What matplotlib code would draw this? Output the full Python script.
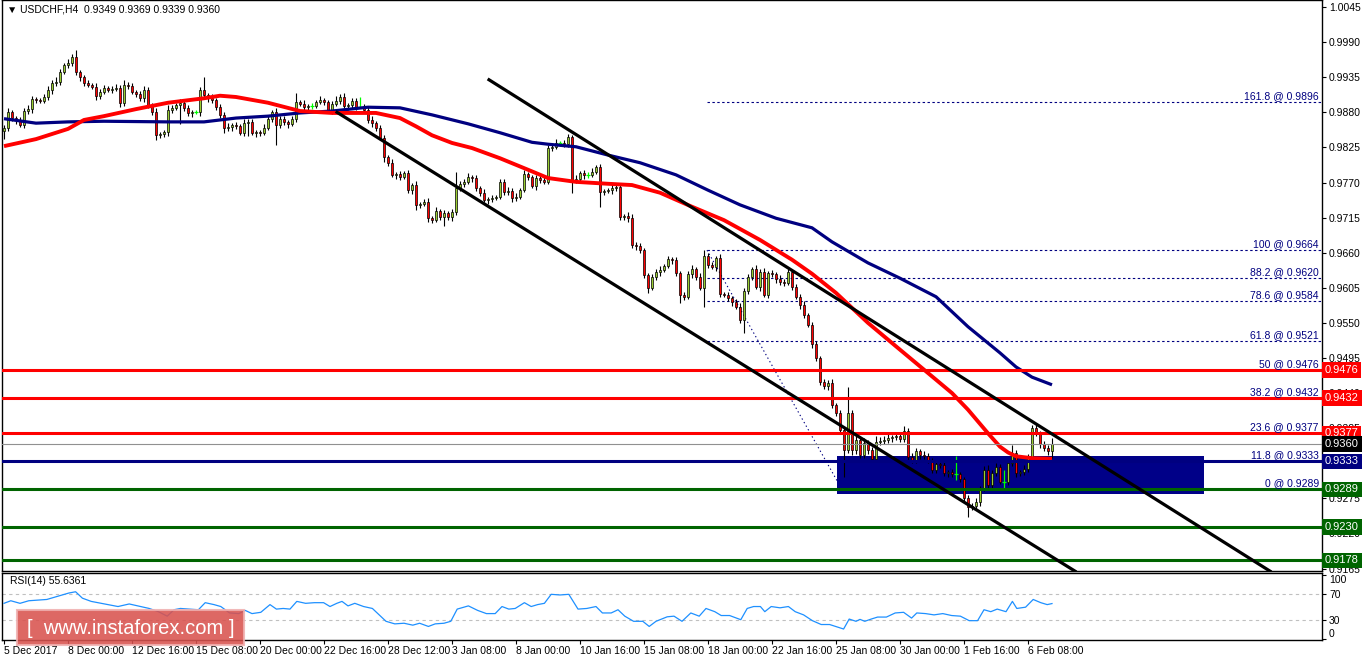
import matplotlib
matplotlib.use('Agg')
import matplotlib.pyplot as plt
from matplotlib.patches import Rectangle, FancyBboxPatch
import matplotlib.transforms as mtransforms

plt.rcParams['font.family'] = ['Liberation Sans', 'DejaVu Sans']

# ---------------- data ----------------
first_open = 0.9850
closes = [
    0.9855, 0.9880, 0.9871, 0.9868, 0.9860, 0.9882, 0.9885, 0.9901, 0.9899, 0.9898,
    0.9904, 0.9915, 0.9926, 0.9928, 0.9943, 0.9954, 0.9957, 0.9967, 0.9943, 0.9935,
    0.9926, 0.9923, 0.9920, 0.9906, 0.9912, 0.9918, 0.9915, 0.9917, 0.9918, 0.9895,
    0.9923, 0.9921, 0.9912, 0.9909, 0.9902, 0.9915, 0.9891, 0.9880, 0.9844, 0.9846,
    0.9849, 0.9884, 0.9887, 0.9891, 0.9895, 0.9887, 0.9879, 0.9880, 0.9880, 0.9915,
    0.9907, 0.9902, 0.9899, 0.9888, 0.9876, 0.9855, 0.9857, 0.9860, 0.9859, 0.9848,
    0.9863, 0.9865, 0.9848, 0.9849, 0.9848, 0.9855, 0.9870, 0.9880, 0.9860, 0.9870,
    0.9865, 0.9862, 0.9870, 0.9896, 0.9893, 0.9888, 0.9890, 0.9890, 0.9896, 0.9899,
    0.9896, 0.9884, 0.9893, 0.9898, 0.9904, 0.9890, 0.9891, 0.9898, 0.9888, 0.9888,
    0.9884, 0.9868, 0.9863, 0.9855, 0.9840, 0.9810, 0.9801, 0.9782, 0.9783, 0.9779,
    0.9785, 0.9758, 0.9766, 0.9735, 0.9737, 0.9740, 0.9714, 0.9712, 0.9725, 0.9716,
    0.9722, 0.9716, 0.9724, 0.9761, 0.9768, 0.9771, 0.9779, 0.9777, 0.9761, 0.9754,
    0.9743, 0.9744, 0.9746, 0.9747, 0.9771, 0.9755, 0.9757, 0.9746, 0.9748, 0.9758,
    0.9783, 0.9779, 0.9765, 0.9777, 0.9774, 0.9771, 0.9824, 0.9826, 0.9832, 0.9832,
    0.9830, 0.9841, 0.9774, 0.9776, 0.9785, 0.9782, 0.9782, 0.9786, 0.9794, 0.9755,
    0.9757, 0.9758, 0.9761, 0.9763, 0.9716, 0.9718, 0.9714, 0.9672, 0.9670, 0.9664,
    0.9625, 0.9605, 0.9622, 0.9630, 0.9633, 0.9639, 0.9650, 0.9648, 0.9628, 0.9594,
    0.9591, 0.9627, 0.9635, 0.9622, 0.9605, 0.9655, 0.9641, 0.9638, 0.9652, 0.9595,
    0.9594, 0.9589, 0.9583, 0.9575, 0.9555, 0.9600, 0.9622, 0.9635, 0.9606, 0.9630,
    0.9594, 0.9628, 0.9626, 0.9619, 0.9614, 0.9612, 0.9630, 0.9606, 0.9591, 0.9578,
    0.9562, 0.9547, 0.9517, 0.9495, 0.9457, 0.9451, 0.9456, 0.9421, 0.9409, 0.9382,
    0.9351, 0.9409, 0.9351, 0.9367, 0.9343, 0.9362, 0.9351, 0.9337, 0.9363, 0.9365,
    0.9367, 0.9370, 0.9371, 0.9373, 0.9368, 0.9381, 0.9340, 0.9335, 0.9349, 0.9343,
    0.9341, 0.9335, 0.9320, 0.9329, 0.9327, 0.9315, 0.9316, 0.9313, 0.9313, 0.9305,
    0.9276, 0.9262, 0.9263, 0.9269, 0.9291, 0.9320, 0.9296, 0.9315, 0.9324, 0.9301,
    0.9301, 0.9330, 0.9346, 0.9315, 0.9316, 0.9321, 0.9340, 0.9385, 0.9377, 0.9360,
    0.9354, 0.9349, 0.9360,
]
# upper / lower wick lengths in pips beyond the body
hi_ext = [
    5, 6, 4, 3, 5, 4, 6, 5, 3, 4, 5, 6, 4, 8, 5, 4, 6, 5, 11, 4,
    4, 5, 3, 6, 4, 5, 3, 4, 6, 5, 8, 4, 5, 3, 4, 6, 5, 4, 6, 3,
    4, 7, 5, 4, 6, 3, 5, 4, 3, 5, 20, 4, 6, 3, 5, 4, 6, 4, 5, 3,
    6, 4, 5, 3, 4, 6, 5, 4, 7, 5, 4, 3, 5, 14, 4, 6, 3, 5, 4, 6,
    4, 3, 5, 7, 4, 6, 3, 5, 4, 16, 5, 4, 6, 3, 5, 4, 3, 6, 4, 5,
    3, 5, 4, 6, 3, 4, 5, 3, 6, 4, 5, 3, 4, 25, 5, 4, 6, 3, 5, 4,
    6, 4, 5, 3, 4, 5, 6, 4, 5, 3, 6, 4, 3, 5, 4, 6, 5, 4, 6, 3,
    5, 5, 4, 6, 3, 5, 4, 6, 4, 5, 3, 4, 6, 5, 4, 3, 5, 6, 4, 5,
    4, 3, 5, 4, 6, 3, 5, 4, 6, 3, 5, 4, 5, 3, 6, 9, 4, 5, 3, 6,
    4, 5, 3, 4, 6, 5, 4, 3, 5, 4, 6, 3, 5, 4, 6, 5, 4, 3, 5, 4,
    6, 3, 5, 4, 3, 5, 4, 6, 3, 5, 4, 41, 5, 6, 4, 8, 5, 4, 9, 6,
    5, 8, 4, 6, 5, 7, 4, 6, 5, 4, 6, 5, 4, 6, 3, 5, 4, 5, 28, 4,
    3, 4, 5, 6, 4, 5, 8, 4, 6, 5, 19, 4, 12, 5, 4, 6, 5, 5, 6, 4,
    5, 4, 9,
]
lo_ext = [
    12, 5, 4, 6, 3, 5, 4, 6, 5, 4, 3, 5, 6, 4, 5, 3, 4, 5, 4, 6,
    5, 3, 4, 6, 5, 4, 3, 5, 4, 6, 5, 4, 3, 5, 4, 6, 5, 4, 8, 5,
    4, 6, 5, 4, 30, 5, 4, 6, 3, 5, 4, 6, 5, 4, 5, 8, 4, 6, 5, 4,
    5, 20, 4, 6, 5, 4, 3, 5, 31, 4, 5, 6, 4, 5, 3, 4, 6, 5, 4, 3,
    5, 4, 6, 3, 5, 4, 6, 4, 5, 1, 5, 4, 6, 5, 4, 8, 5, 4, 6, 5,
    4, 5, 6, 8, 5, 4, 6, 5, 4, 5, 14, 4, 6, 5, 4, 5, 3, 6, 4, 5,
    4, 6, 5, 4, 3, 5, 4, 6, 5, 4, 3, 5, 4, 6, 5, 4, 3, 5, 4, 5,
    5, 4, 20, 5, 4, 6, 5, 4, 3, 23, 5, 4, 6, 5, 4, 5, 6, 4, 5, 4,
    5, 8, 4, 5, 6, 4, 3, 5, 4, 13, 5, 4, 6, 5, 4, 30, 5, 4, 6, 5,
    4, 5, 6, 4, 5, 21, 4, 5, 3, 6, 4, 5, 4, 6, 5, 4, 3, 5, 4, 6,
    5, 4, 6, 5, 4, 5, 6, 4, 5, 6, 42, 5, 8, 6, 4, 5, 6, 4, 5, 4,
    4, 5, 6, 4, 5, 4, 6, 5, 4, 6, 5, 4, 6, 5, 4, 5, 6, 4, 9, 5,
    6, 16, 5, 4, 6, 5, 4, 6, 5, 4, 13, 5, 4, 6, 5, 4, 5, 4, 5, 6,
    5, 6, 10,
]

# moving averages (bar index, value)
ma_red_bar = [0, 8, 16, 20, 25, 33, 41, 50, 54, 58, 66, 74, 82, 89, 93, 99, 103, 107, 112, 117,
              124, 131, 136, 143, 151, 157, 164, 172, 180, 189, 197, 202, 208, 216, 224,
              233, 237, 241, 246, 249, 251, 253, 257, 262]
ma_red_val = [0.9827, 0.9838, 0.9854, 0.9868, 0.9874, 0.9885, 0.9895, 0.9902, 0.9906, 0.9904,
              0.9895, 0.9882, 0.9879, 0.9879, 0.9879, 0.9871, 0.9858, 0.9844, 0.9832, 0.9824,
              0.9808, 0.9790, 0.9777, 0.9771, 0.9768, 0.9766, 0.9754, 0.9732, 0.9711, 0.9680,
              0.9649, 0.9627, 0.9597, 0.9550, 0.9508, 0.9461, 0.9440, 0.9414, 0.9377, 0.9356,
              0.9347, 0.9341, 0.9338, 0.9337]
ma_blue_bar = [0, 8, 16, 25, 41, 50, 58, 66, 74, 82, 91, 99, 107, 116, 124, 132, 136, 143,
               151, 159, 168, 176, 184, 193, 202, 207, 216, 224, 233, 241, 249, 253, 257, 262]
ma_blue_val = [0.9870, 0.9863, 0.9865, 0.9866, 0.9865, 0.9865, 0.9871, 0.9874, 0.9879, 0.9882,
               0.9888, 0.9887, 0.9876, 0.9862, 0.9848, 0.9833, 0.9830, 0.9826,
               0.9813, 0.9801, 0.9782, 0.9758, 0.9735, 0.9714, 0.9699, 0.9677, 0.9644, 0.9620,
               0.9591, 0.9544, 0.9503, 0.9481, 0.9465, 0.9453]

# RSI(14)
rsi_bar = [0, 1.7, 4, 6.2, 8.4, 10.7, 12.9, 16.2, 17.9, 19.6, 21.8, 25.2, 28.5, 31.3, 34.1,
           36.3, 38.6, 40.8, 42.5, 44.1, 46.4, 48.6, 50.3, 52.5, 54.2, 56.4, 58.7, 60.3, 62,
           64.2, 66.5, 68.1, 69.8, 71.5, 73.2, 75.4, 77.6, 79.9, 81.5, 83.2, 84.5, 86, 87.7,
           89.9, 92.1, 93.8, 95.5, 97.7, 100, 102.2, 103.9, 106.1, 107.8, 110, 111.7, 113.3,
           116.1, 118.4, 120.6, 122.8, 124.5, 126.2, 127.8, 130.1, 131.8, 133.4, 135.1, 136.8,
           139, 141.2, 143.5, 145.7, 148, 149.6, 151.8, 153.5, 155.2, 157.4, 159.7, 161.3, 163,
           165.8, 167.5, 169.5, 171.7, 173.8, 175.5, 177.7, 179.3, 181.4, 184.2, 185.8, 187.4,
           189.1, 190.2, 191.8, 194, 196.1, 197.8, 199.9, 202.1, 204.3, 206.4, 208.1, 209.9,
           211.3, 213, 214, 215.2, 216.8, 218.4, 220.6, 222.8, 224.9, 226.9, 228.2, 230.4,
           232.5, 234.7, 236.9, 239.1, 241.3, 243.4, 245, 246.7, 248.3, 250.5, 252.1, 253.2,
           255.4, 257.3, 259.2, 260.8, 262]
rsi_val = [56, 60, 56, 60, 61, 62, 66, 72, 74, 64, 59, 55, 51, 55, 51,
           48, 43, 36, 46, 48, 47, 46, 57, 54, 51, 41, 40, 45, 40,
           42, 54, 47, 48, 47, 59, 56, 57, 57, 51, 56, 59, 52, 56,
           51, 48, 38, 28, 24, 25, 22, 25, 20, 24, 25, 28, 47,
           52, 45, 40, 40, 51, 47, 48, 57, 51, 54, 56, 70,
           69, 70, 47, 48, 51, 41, 41, 46, 36, 28, 28, 20, 28,
           35, 36, 28, 41, 36, 48, 43, 37, 37, 30.5, 48, 51,
           51, 43, 51, 49, 51, 43, 38, 29, 23, 23, 19.6, 16,
           31.5, 28, 31, 28, 31.5, 34.6, 34.6, 41, 42, 33, 41, 40,
           38, 40, 37, 36, 29, 29, 46, 43, 47, 43, 59, 48,
           50, 62, 57, 54, 55.6]

xtick_bars = [0, 16, 32, 48, 64, 80, 96, 112, 128, 144, 160, 176, 192, 208, 224, 240, 256]
xtick_labels = ['5 Dec 2017', '8 Dec 00:00', '12 Dec 16:00', '15 Dec 08:00', '20 Dec 00:00',
                '22 Dec 16:00', '28 Dec 12:00', '3 Jan 08:00', '8 Jan 00:00', '10 Jan 16:00',
                '15 Jan 08:00', '18 Jan 00:00', '22 Jan 16:00', '25 Jan 08:00', '30 Jan 00:00',
                '1 Feb 16:00', '6 Feb 08:00']
price_ticks = [1.0045, 0.9990, 0.9935, 0.9880, 0.9825, 0.9770, 0.9715, 0.9660, 0.9605,
               0.9550, 0.9495, 0.9440, 0.9385, 0.9330, 0.9275, 0.9220, 0.9165]

red_levels = [0.9476, 0.9432, 0.9377]
navy_levels = [0.9333]
green_levels = [0.9289, 0.9230, 0.9178]
current_price = 0.9360

fib_names = ['161.8', '100', '88.2', '78.6', '61.8', '50', '38.2', '23.6', '11.8', '0']
fib_prices = [0.9896, 0.9664, 0.9620, 0.9584, 0.9521, 0.9476, 0.9432, 0.9377, 0.9333, 0.9289]
fib_start_bar = 175.75
fib_diag_bars = [175.75, 208.5]
fib_diag_prices = [0.9664, 0.9300]

chan_upper_bars = [121.25, 316.5]
chan_upper_prices = [0.9931, 0.9161]
chan_lower_bars = [83.25, 267.75]
chan_lower_prices = [0.9880, 0.9161]

zone_bars = [208.25, 300.0]
zone_prices = [0.9282, 0.9341]

title_text = '\u25BC USDCHF,H4  0.9349 0.9369 0.9339 0.9360'
rsi_text = 'RSI(14) 55.6361'

# ---------------- figure ----------------
W, H = 1362, 661
fig = plt.figure(figsize=(W / 100, H / 100), dpi=100)
fig.patch.set_facecolor('white')

def fx(px):
    return px / W

def fy(py):
    return 1 - py / H

ax = fig.add_axes([fx(2), fy(571), fx(1322) - fx(2), fy(0) - fy(571)])
ax2 = fig.add_axes([fx(2), fy(640), fx(1322) - fx(2), fy(573) - fy(640)])

XL = (-0.5, 329.5)
ax.set_xlim(*XL)
ax.set_ylim(0.91612, 1.0056)
ax2.set_xlim(*XL)
ax2.set_ylim(-1.1, 103.2)

# zone rectangle (background)
ax.add_patch(Rectangle((zone_bars[0], zone_prices[0]), zone_bars[1] - zone_bars[0],
                       zone_prices[1] - zone_prices[0], facecolor='#000088',
                       edgecolor='none', zorder=1))

# fib dashed lines
for name, p in zip(fib_names, fib_prices):
    ax.plot([fib_start_bar, XL[1]], [p, p], color='#000080', lw=0.8,
            dashes=(2.2, 2.2), zorder=2)
    ax.text(XL[1] - 0.8, p + 0.00022, f'{name} @ {p:.4f}', color='#000080',
            fontsize=7.5, ha='right', va='bottom', zorder=6)
ax.plot(fib_diag_bars, fib_diag_prices, color='#000080', lw=0.8, dashes=(1.2, 2.5), zorder=2)

# candles
prev = first_open
for i, c in enumerate(closes):
    o = prev
    hi = max(o, c) + hi_ext[i] * 0.0001
    lo = min(o, c) - lo_ext[i] * 0.0001
    if abs(o - c) < 0.00004:
        ax.vlines(i, lo, hi, color='#00FF00', lw=0.9, zorder=3)
        ax.hlines(c, i - 0.4, i + 0.4, color='#00FF00', lw=0.9, zorder=3)
    else:
        ax.vlines(i, lo, hi, color='black', lw=0.8, zorder=3)
        col = '#9ACD32' if c > o else '#FF0000'
        ax.add_patch(Rectangle((i - 0.34, min(o, c)), 0.68, abs(c - o), facecolor=col,
                               edgecolor='black', lw=0.5, zorder=3.5))
    prev = c

# moving averages
ax.plot(ma_blue_bar, ma_blue_val, color='#000080', lw=2.3, zorder=4,
        solid_capstyle='butt', solid_joinstyle='round')
ax.plot(ma_red_bar, ma_red_val, color='#FF0000', lw=2.8, zorder=4,
        solid_capstyle='butt', solid_joinstyle='round')

# horizontal levels
ax.axhline(current_price, color='#909090', lw=0.8, zorder=4)
for p in red_levels:
    ax.axhline(p, color='#FF0000', lw=2.2, zorder=4.5)
for p in navy_levels:
    ax.axhline(p, color='#000080', lw=2.2, zorder=4.5)
for p in green_levels:
    ax.axhline(p, color='#006400', lw=2.2, zorder=4.5)

# channel
ax.plot(chan_upper_bars, chan_upper_prices, color='black', lw=2.3, zorder=5)
ax.plot(chan_lower_bars, chan_lower_prices, color='black', lw=2.3, zorder=5)

# axes styling
for a in (ax, ax2):
    for s in a.spines.values():
        s.set_color('black')
        s.set_linewidth(1.0)
ax.set_xticks([])
ax.yaxis.tick_right()
ax.set_yticks(price_ticks)
ax.set_yticklabels([f'{p:.4f}' for p in price_ticks])
ax.tick_params(axis='y', direction='out', length=3, width=0.8, pad=2, labelsize=7.5,
               colors='black')

# price boxes on the axis
trans = mtransforms.blended_transform_factory(ax.transAxes, ax.transData)
box_items = ([(p, '#FF0000') for p in red_levels] + [(current_price, '#000000')] +
             [(p, '#000080') for p in navy_levels] + [(p, '#006400') for p in green_levels])
for p, col in box_items:
    ax.text(1.0022, p, f'{p:.4f}', transform=trans, color='white', fontsize=8,
            ha='left', va='center', clip_on=False, zorder=10,
            bbox=dict(boxstyle='square,pad=0.25', facecolor=col, edgecolor='none'))

# title
fig.text(fx(7), fy(10), title_text, fontsize=7.5, ha='left', va='center', color='black')

# RSI panel
ax2.axhline(70, color='#C0C0C0', lw=0.8, dashes=(3, 3))
ax2.axhline(30, color='#C0C0C0', lw=0.8, dashes=(3, 3))
ax2.plot(rsi_bar, rsi_val, color='#1E90FF', lw=0.9, zorder=3)
ax2.text(1.5, 98, rsi_text, fontsize=7.5, ha='left', va='top', color='black')
ax2.yaxis.tick_right()
ax2.set_yticks([100, 70, 30, 0])
ax2.set_yticklabels(['100', '70', '30', '0'])
ax2.tick_params(axis='y', direction='out', length=3, width=0.8, pad=2, labelsize=7.5)
labs = ax2.get_yticklabels()
labs[0].set_va('top')
labs[3].set_va('bottom')
ax2.set_xticks(xtick_bars)
ax2.set_xticklabels(xtick_labels)
ax2.tick_params(axis='x', direction='out', length=3, width=0.8, pad=1.5, labelsize=7.5)
for lab in ax2.get_xticklabels():
    lab.set_ha('left')

# watermark logo
logo = FancyBboxPatch((fx(17), fy(645)), fx(244) - fx(17), fy(610) - fy(645),
                      boxstyle='square,pad=0', transform=fig.transFigure,
                      facecolor='#D9534F', edgecolor='#F0B0B0', lw=1.5, alpha=0.88,
                      zorder=20)
fig.add_artist(logo)
fig.text(fx(131), fy(628), '[  www.instaforex.com ]', fontsize=14.5, color='white',
         ha='center', va='center', zorder=21)

fig.savefig('out.png', dpi=100)
